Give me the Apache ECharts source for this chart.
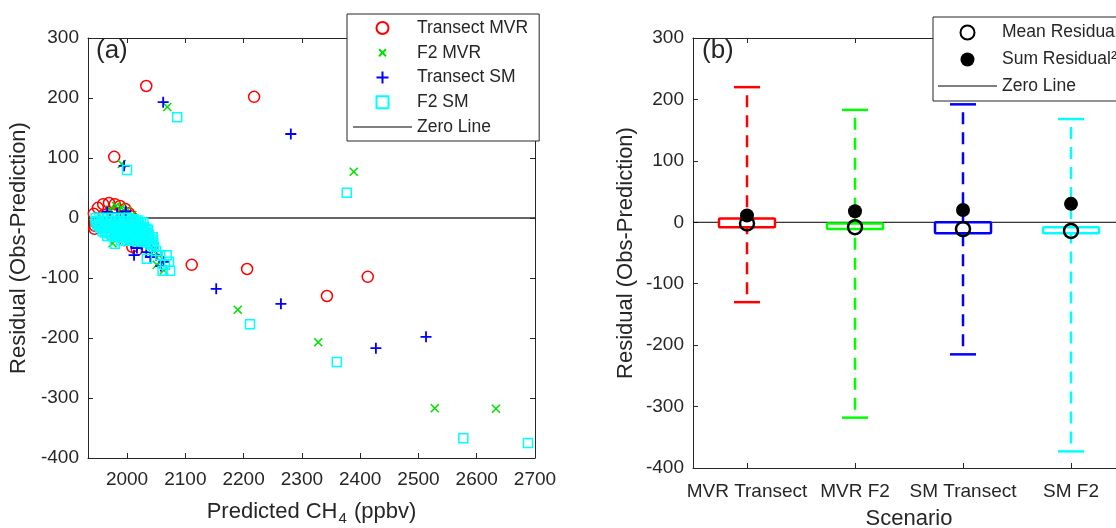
<!DOCTYPE html>
<html>
<head>
<meta charset="utf-8">
<script src="https://cdn.jsdelivr.net/npm/echarts@6/dist/echarts.min.js"></script>
<style>
  html, body { margin: 0; padding: 0; background: #fff; }
  #chart { width: 1116px; height: 528px; }
</style>
</head>
<body>
<div id="chart"></div>
<script>
// ---- panel (a): residual vs predicted CH4 ----
var transectMVR = [
  [2033, 220], [2218, 202], [1978, 102], [2111, -78], [2206, -85], [2343, -130], [2413, -98],
  [1945, -7], [1943, 7], [1950, 17], [1959, 23], [1969, 25], [1979, 23], [1988, 20],
  [1997, 15], [2003, 8], [2007, 3], [1945, -13], [1944, -18], [1960, 5], [1980, 8],
  [1990, 0], [1970, -10], [1995, -37], [2009, -48], [2017, -53]
];
var f2MVR = [
  [2069, 185], [1991, 90], [2389, 77], [2190, -153], [2328, -207], [2528, -317], [2633, -318],
  [2051, -78], [1981, 20], [1990, 17], [2000, 12], [2009, 5], [1970, 14], [2030, -30],
  [1975, -42], [2045, -55], [2055, -62], [2058, -73], [2063, -87]
];
var transectSM = [
  [2062, 193], [2281, 140], [1995, 87], [2153, -118], [2264, -143], [2427, -217], [2513, -198],
  [1966, 10], [1983, 8], [1998, 11], [1960, -10], [1980, -20], [2000, -15], [2007, -42],
  [2017, -50], [2025, -45], [2033, -57], [2043, -50], [2012, -62], [2040, -65], [2050, -62],
  [2063, -73], [2058, -80]
];
var f2SM = [
  [2086, 168], [2000, 80], [2377, 42], [2211, -177], [2360, -240], [2577, -367], [2688, -375],
  [1946, 0], [1946, -6], [1952, 0], [1952, -10], [1954, -16],
  [1958, 0], [1960, -10], [1960, -18], [1962, -24],
  [1966, 0], [1968, -10], [1968, -18], [1970, -26],
  [1975, 0], [1976, -10], [1976, -18], [1978, -26], [1980, -30],
  [1984, 0], [1984, -10], [1985, -18], [1986, -26], [1988, -32],
  [1993, 0], [1993, -10], [1994, -18], [1995, -26], [1997, -33],
  [2002, 0], [2002, -10], [2003, -18], [2004, -26], [2006, -34],
  [2011, -2], [2011, -10], [2012, -18], [2013, -26], [2014, -35],
  [2019, -4], [2020, -11], [2021, -19], [2022, -27], [2023, -37],
  [2028, -8], [2029, -15], [2030, -23], [2031, -31], [2032, -40],
  [2036, -20], [2037, -28], [2038, -36], [2040, -44],
  [2044, -32], [2045, -40], [2046, -48],
  [1949, -5], [1956, -5], [1963, -5], [1971, -5], [1980, -5], [1988, -5], [1997, -5],
  [2006, -5], [2015, -6], [2024, -7],
  [1949, -12], [1956, -14], [1964, -14], [1972, -14], [1980, -14], [1989, -14], [1998, -14],
  [2007, -14], [2016, -14], [2025, -15], [2033, -18],
  [1958, -22], [1965, -22], [1973, -22], [1981, -22], [1990, -22], [1999, -22], [2008, -22],
  [2017, -22], [2026, -23], [2034, -25],
  [1966, -30], [1974, -30], [1983, -30], [1992, -30], [2001, -30], [2010, -30], [2018, -31],
  [2027, -31], [2035, -33], [2042, -36],
  [1990, -37], [2000, -38], [2009, -38], [2018, -39], [2027, -39], [2036, -41], [2043, -44],
  [1979, -43], [2034, -68], [2050, -55], [2057, -62], [2068, -62], [2072, -73],
  [2065, -78], [2061, -88], [2074, -88]
];
var xTicksA = [2000, 2100, 2200, 2300, 2400, 2500, 2600, 2700];
var xRangeA = [1933, 2700];
var yRange = [-400, 300];

// ---- panel (b): residual summary by scenario ----
var scenarios = ['MVR Transect', 'MVR F2', 'SM Transect', 'SM F2'];
var scenarioPos = [1, 2, 3, 4];
var whiskerLow = [-130, -318, -215, -373];
var boxQ1 = [-8, -11, -18, -18];
var boxQ3 = [6, -2, 0, -8];
var whiskerHigh = [220, 183, 192, 168];
var meanResidual = [-2, -8, -11, -14];
var sumResidual = [11, 18, 20, 30];
var boxColors = ['#ff0000', '#00ff00', '#0000ff', '#00ffff'];

var textColor = '#262626';
var font = 'Liberation Sans, Arial, Helvetica, sans-serif';
var tickFont = 19;
var titleFont = 22;
var legendFont = 17.5;

var chart = echarts.init(document.getElementById('chart'));

function valueAxis(grid, pos, min, max, withLabels, extra) {
  var ax = {
    gridIndex: grid, type: 'value', position: pos, min: min, max: max,
    axisLine: { show: true, onZero: false, lineStyle: { color: textColor, width: 1 } },
    axisTick: { show: true, inside: true, length: 5, lineStyle: { color: textColor } },
    splitLine: { show: false },
    axisLabel: { show: withLabels, color: textColor, fontSize: tickFont, fontFamily: font, margin: 9 }
  };
  return Object.assign(ax, extra || {});
}

function ptsOf(xs, ys) {
  return xs.map(function (x, i) { return [x, ys[i]]; });
}

var plusPath = 'path://M5,0L5,10M0,5L10,5';
var crossPath = 'path://M0,0L10,10M0,10L10,0';
var crossIcon = 'path://M0,0M14,14M3,3L11,11M3,11L11,3';
var squarePath = 'path://M0,0L10,0L10,10L0,10Z';
var linePath = 'path://M0,0L59,0L59,1L0,1Z';

chart.setOption({
  animation: false,
  backgroundColor: '#fff',
  textStyle: { fontFamily: font },
  grid: [
    { left: 88, top: 38, width: 447, height: 420, outerBoundsMode: 'none', containLabel: false },
    { left: 693, top: 38, width: 432, height: 430, outerBoundsMode: 'none', containLabel: false }
  ],
  xAxis: [
    valueAxis(0, 'bottom', xRangeA[0], xRangeA[1], true, {
      axisLabel: {
        show: true, color: textColor, fontSize: tickFont, fontFamily: font, margin: 12,
        customValues: xTicksA, formatter: function (v) { return String(v); }
      },
      axisTick: { show: true, inside: true, length: 5, lineStyle: { color: textColor }, customValues: xTicksA },
      name: '{n|Predicted CH}{s|4}{n| (ppbv)}',
      nameLocation: 'middle', nameGap: 40,
      nameTextStyle: {
        rich: {
          n: { fontSize: titleFont, color: textColor, fontFamily: font },
          s: { fontSize: 15, color: textColor, fontFamily: font, padding: [13, 1, 0, 1] }
        }
      }
    }),
    valueAxis(0, 'top', xRangeA[0], xRangeA[1], false, {
      axisTick: { show: true, inside: true, length: 5, lineStyle: { color: textColor }, customValues: xTicksA }
    }),
    valueAxis(1, 'bottom', 0.5, 4.5, true, {
      axisLabel: {
        show: true, color: textColor, fontSize: tickFont, fontFamily: font, margin: 14,
        customValues: scenarioPos,
        formatter: function (v) { return scenarios[Math.round(v) - 1]; }
      },
      axisTick: { show: true, inside: true, length: 5, lineStyle: { color: textColor }, customValues: scenarioPos },
      name: 'Scenario', nameLocation: 'middle', nameGap: 40,
      nameTextStyle: { fontSize: titleFont, color: textColor, fontFamily: font }
    }),
    valueAxis(1, 'top', 0.5, 4.5, false, {
      axisTick: { show: true, inside: true, length: 5, lineStyle: { color: textColor }, customValues: scenarioPos }
    })
  ],
  yAxis: [
    valueAxis(0, 'left', yRange[0], yRange[1], true, {
      interval: 100,
      name: 'Residual (Obs-Prediction)', nameLocation: 'middle', nameGap: 58,
      nameTextStyle: { fontSize: titleFont, color: textColor, fontFamily: font }
    }),
    valueAxis(0, 'right', yRange[0], yRange[1], false, { interval: 100 }),
    valueAxis(1, 'left', yRange[0], yRange[1], true, {
      interval: 100,
      name: 'Residual (Obs-Prediction)', nameLocation: 'middle', nameGap: 56,
      nameTextStyle: { fontSize: titleFont, color: textColor, fontFamily: font }
    }),
    valueAxis(1, 'right', yRange[0], yRange[1], false, { interval: 100 })
  ],
  legend: [
    {
      left: 347, top: 14, orient: 'vertical',
      data: ['Transect MVR', { name: 'F2 MVR', icon: crossIcon }, 'Transect SM', 'F2 SM',
        { name: 'Zero Line', icon: linePath }],
      backgroundColor: '#fff', borderColor: textColor, borderWidth: 1,
      padding: [5, 11, 5, 6], itemWidth: 59, itemHeight: 12, itemGap: 6.75,
      textStyle: { fontSize: legendFont, color: textColor, fontFamily: font, lineHeight: 18 }
    },
    {
      left: 933, top: 17, orient: 'vertical',
      data: ['Mean Residual', 'Sum Residual\u00b2', { name: 'Zero Line', icon: linePath }],
      backgroundColor: '#fff', borderColor: textColor, borderWidth: 1,
      padding: [6, 10, 6, 5], itemWidth: 59, itemHeight: 14, itemGap: 8.5,
      textStyle: { fontSize: legendFont, color: textColor, fontFamily: font, lineHeight: 18 }
    }
  ],
  graphic: [
    { type: 'text', left: 96, top: 38, style: { text: '(a)', fontSize: 26, fill: textColor, fontFamily: font } },
    { type: 'text', left: 702, top: 38, style: { text: '(b)', fontSize: 26, fill: textColor, fontFamily: font } }
  ],
  series: [
    {
      name: 'Zero Line', type: 'line', xAxisIndex: 0, yAxisIndex: 0,
      data: [[xRangeA[0], 0], [xRangeA[1], 0]], symbol: 'none',
      itemStyle: { color: '#000' },
      lineStyle: { color: '#333', width: 1.5 }, z: 1
    },
    {
      name: 'Transect MVR', type: 'scatter', xAxisIndex: 0, yAxisIndex: 0,
      data: transectMVR, symbol: 'circle', symbolSize: 11,
      itemStyle: { color: 'none', borderColor: '#ff0000', borderWidth: 1.5, opacity: 1 }, z: 2
    },
    {
      name: 'F2 MVR', type: 'scatter', xAxisIndex: 0, yAxisIndex: 0,
      data: f2MVR, symbol: crossPath, symbolSize: 8,
      itemStyle: { color: 'none', borderColor: '#00e000', borderWidth: 1.6, opacity: 1 }, z: 3
    },
    {
      name: 'Transect SM', type: 'scatter', xAxisIndex: 0, yAxisIndex: 0,
      data: transectSM, symbol: plusPath, symbolSize: 11,
      itemStyle: { color: 'none', borderColor: '#0000ff', borderWidth: 1.8, opacity: 1 }, z: 4
    },
    {
      name: 'F2 SM', type: 'scatter', xAxisIndex: 0, yAxisIndex: 0,
      data: f2SM, symbol: squarePath, symbolSize: 9,
      itemStyle: { color: 'none', borderColor: '#00ffff', borderWidth: 1.5, opacity: 1 }, z: 5
    },
    {
      name: 'Zero Line', type: 'line', xAxisIndex: 2, yAxisIndex: 2,
      data: [[0.5, 0], [4.5, 0]], symbol: 'none',
      itemStyle: { color: '#000' },
      lineStyle: { color: '#000', width: 1 }, z: 1
    },
    {
      name: 'Boxes', type: 'custom', xAxisIndex: 2, yAxisIndex: 2, z: 3,
      data: scenarioPos.map(function (p, i) {
        return [p, whiskerLow[i], boxQ1[i], boxQ3[i], whiskerHigh[i]];
      }),
      encode: { x: 0, y: [1, 2, 3, 4] },
      renderItem: function (params, api) {
        var x = api.value(0);
        var c = boxColors[params.dataIndex];
        var lo = api.coord([x, api.value(1)]);
        var q1 = api.coord([x, api.value(2)]);
        var q3 = api.coord([x, api.value(3)]);
        var hi = api.coord([x, api.value(4)]);
        var dash = { stroke: c, lineWidth: 2.5, lineDash: [12, 8], lineDashOffset: 12 };
        var solid = { stroke: c, lineWidth: 2.5 };
        return {
          type: 'group',
          children: [
            { type: 'line', shape: { x1: hi[0], y1: hi[1], x2: q3[0], y2: q3[1] }, style: dash },
            { type: 'line', shape: { x1: lo[0], y1: lo[1], x2: q1[0], y2: q1[1] }, style: dash },
            { type: 'line', shape: { x1: hi[0] - 13, y1: hi[1], x2: hi[0] + 13, y2: hi[1] }, style: solid },
            { type: 'line', shape: { x1: lo[0] - 13, y1: lo[1], x2: lo[0] + 13, y2: lo[1] }, style: solid },
            {
              type: 'rect',
              shape: { x: q3[0] - 28, y: q3[1], width: 56, height: q1[1] - q3[1], r: 1 },
              style: { stroke: c, lineWidth: 2.5, fill: '#fff' }
            }
          ]
        };
      }
    },
    {
      name: 'Sum Residual\u00b2', type: 'scatter', xAxisIndex: 2, yAxisIndex: 2, z: 4,
      data: ptsOf(scenarioPos, sumResidual), symbol: 'circle', symbolSize: 14,
      itemStyle: { color: '#000', opacity: 1 }
    },
    {
      name: 'Mean Residual', type: 'scatter', xAxisIndex: 2, yAxisIndex: 2, z: 5,
      data: ptsOf(scenarioPos, meanResidual), symbol: 'circle', symbolSize: 14,
      itemStyle: { color: 'none', borderColor: '#000', borderWidth: 2.5, opacity: 1 }
    }
  ]
});
</script>
</body>
</html>
